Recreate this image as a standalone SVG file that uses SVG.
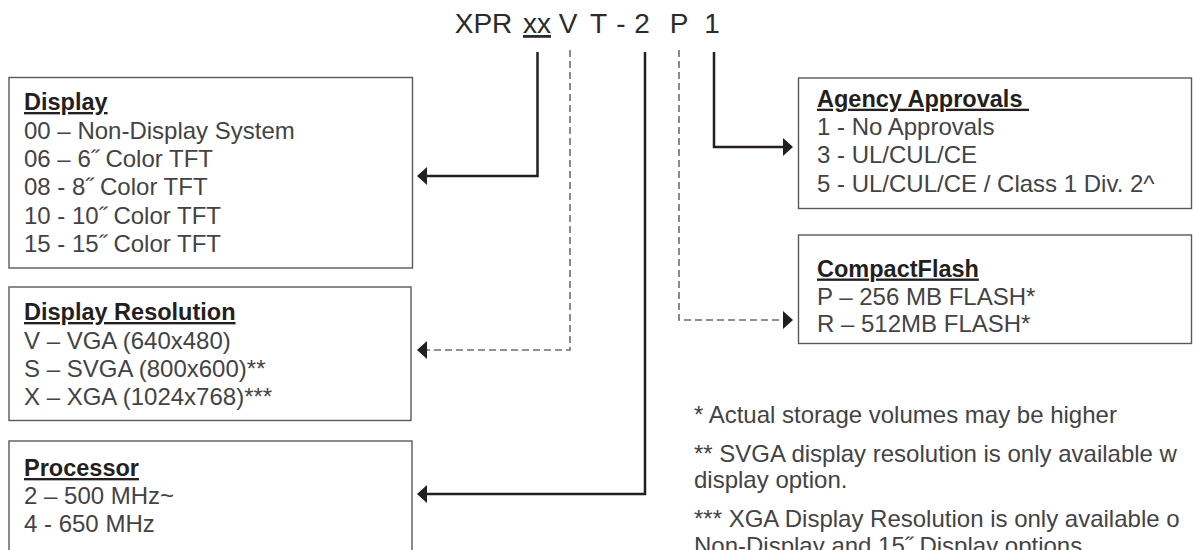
<svg xmlns="http://www.w3.org/2000/svg" width="1193" height="550" viewBox="0 0 1193 550">
<style>
  .box { fill: #ffffff; stroke: #58595b; stroke-width: 1.4; }
  .hdr { font-family: "Liberation Sans", Arial, sans-serif; font-size: 23.5px; font-weight: bold; fill: #231f20; text-decoration: underline; }
  .txt { font-family: "Liberation Sans", Arial, sans-serif; font-size: 24px; fill: #434345; }
  .title { font-family: "Liberation Sans", Arial, sans-serif; font-size: 28px; fill: #2b2b2b; }
  .solid { fill: none; stroke: #231f20; stroke-width: 2.5; }
  .dash { fill: none; stroke: #6d6e71; stroke-width: 1.6; stroke-dasharray: 7 4; }
</style>
<defs>
  <marker id="arrow" markerUnits="userSpaceOnUse" markerWidth="10" markerHeight="18" refX="1" refY="9" orient="auto" viewBox="0 0 10 18">
    <path d="M0,0 L10,9 L0,18 z" fill="#231f20"/>
  </marker>
</defs>

<g id="title">
  <text class="title" y="33" text-anchor="middle"><tspan x="483.5">XPR</tspan><tspan x="537" text-decoration="underline">xx</tspan><tspan x="568">V</tspan><tspan x="598.5">T</tspan><tspan x="621">-</tspan><tspan x="642">2</tspan><tspan x="679">P</tspan><tspan x="712">1</tspan></text>
</g>

<g id="connectors">
  <path class="solid" d="M537.5,52 V176 H426" marker-end="url(#arrow)"/>
  <path class="dash" d="M570,50 V350 H426" marker-end="url(#arrow)"/>
  <path class="solid" d="M645,52 V494 H426" marker-end="url(#arrow)"/>
  <path class="dash" d="M679,50 V320 H784" marker-end="url(#arrow)"/>
  <path class="solid" d="M714,52 V147 H784" marker-end="url(#arrow)"/>
</g>

<g id="display">
  <rect class="box" x="9" y="77.5" width="403.5" height="190.5"/>
  <text class="hdr" x="24" y="110">Display</text>
  <text class="txt" x="24" y="138.5">00 – Non-Display System</text>
  <text class="txt" x="24" y="167">06 – 6˝ Color TFT</text>
  <text class="txt" x="24" y="195">08 - 8˝ Color TFT</text>
  <text class="txt" x="24" y="223.5">10 - 10˝ Color TFT</text>
  <text class="txt" x="24" y="251.5">15 - 15˝ Color TFT</text>
</g>

<g id="resolution">
  <rect class="box" x="9" y="287" width="402" height="133.5"/>
  <text class="hdr" x="24" y="320">Display Resolution</text>
  <text class="txt" x="24" y="348.5">V – VGA (640x480)</text>
  <text class="txt" x="24" y="377">S – SVGA (800x600)**</text>
  <text class="txt" x="24" y="405">X – XGA (1024x768)***</text>
</g>

<g id="processor">
  <rect class="box" x="9" y="441" width="403" height="130"/>
  <text class="hdr" x="24" y="476">Processor</text>
  <text class="txt" x="24" y="504">2 – 500 MHz~</text>
  <text class="txt" x="24" y="532">4 - 650 MHz</text>
</g>

<g id="agency">
  <rect class="box" x="798.5" y="78" width="393" height="130.5"/>
  <text class="hdr" x="817" y="106.7" xml:space="preserve">Agency Approvals </text>
  <text class="txt" x="817" y="135">1 - No Approvals</text>
  <text class="txt" x="817" y="163.3">3 - UL/CUL/CE</text>
  <text class="txt" x="817" y="191.7">5 - UL/CUL/CE / Class 1 Div. 2^</text>
</g>

<g id="compactflash">
  <rect class="box" x="798.5" y="235" width="393" height="108.5"/>
  <text class="hdr" x="817" y="276.5">CompactFlash</text>
  <text class="txt" x="817" y="305">P – 256 MB FLASH*</text>
  <text class="txt" x="817" y="332">R – 512MB FLASH*</text>
</g>

<g id="footnotes">
  <text class="txt" x="694" y="423.3">* Actual storage volumes may be higher</text>
  <text class="txt" x="694" y="461.7">** SVGA display resolution is only available w</text>
  <text class="txt" x="694" y="488.3">display option.</text>
  <text class="txt" x="694" y="526.7">*** XGA Display Resolution is only available o</text>
  <text class="txt" x="694" y="553.5">Non-Display and 15˝ Display options.</text>
</g>
</svg>
